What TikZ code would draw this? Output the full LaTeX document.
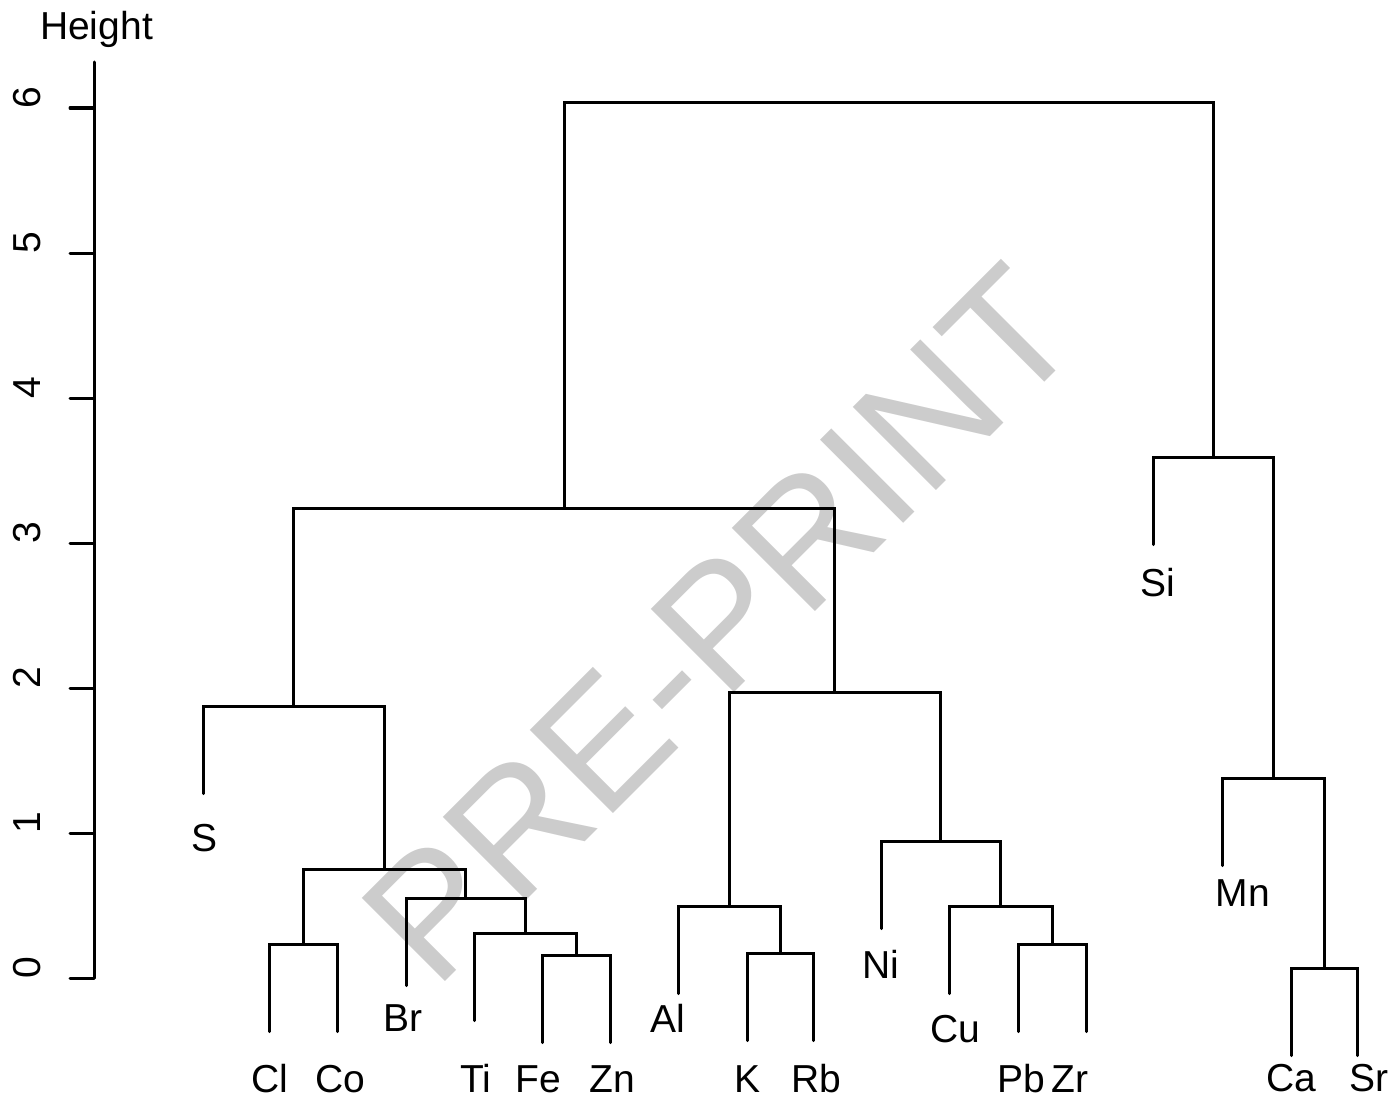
\documentclass[tikz,border=0pt]{standalone}
\usepackage{fontspec}
\setmainfont{Liberation Sans}

\begin{document}
\begin{tikzpicture}[x=0.5pt,y=-0.5pt,
    link/.style={line width=1.5pt,line cap=round},
    leaf/.style={anchor=base,inner sep=0pt,font=\fontsize{19.5}{23}\selectfont},
    ticklabel/.style={leaf,rotate=90},
    watermark/.style={rotate=45,inner sep=0pt,text=black!20,
      font=\fontsize{85.5}{100}\selectfont}]
  \useasboundingbox (0,0) rectangle (1395,1102);
  % watermark behind everything
  \node[watermark] (wm) at (720,624) {PRE-PRINT};

  % y axis with ticks
  \node[leaf] (ylab) at (96.5,39.3) {Height};
  \coordinate (axtop) at (94,62);
  \coordinate (axbot) at (94,978);
  \draw[link] (axtop) -- (axbot);
  \foreach \k in {0,...,6} {
    \coordinate (t\k) at (94,{978-145*\k});
    \coordinate (tt\k) at (70,{978-145*\k});
    \draw[link] (t\k) -- (tt\k);
    \node[ticklabel] (tl\k) at (40,{967.5-145*\k}) {\k};
  }

  % leaf ends (merge height minus hang)
  \coordinate (eS) at (203,793.5);
  \coordinate (eCl) at (269,1031.5);
  \coordinate (eCo) at (337,1031.5);
  \coordinate (eBr) at (406,985.5);
  \coordinate (eTi) at (474,1020.5);
  \coordinate (eFe) at (542,1042.5);
  \coordinate (eZn) at (610,1042.5);
  \coordinate (eAl) at (678,993.5);
  \coordinate (eK) at (747,1040.5);
  \coordinate (eRb) at (813,1040.5);
  \coordinate (eNi) at (881,928.5);
  \coordinate (eCu) at (949,993.5);
  \coordinate (ePb) at (1018,1031.5);
  \coordinate (eZr) at (1086,1031.5);
  \coordinate (eSi) at (1153,544.5);
  \coordinate (eMn) at (1222,865.5);
  \coordinate (eCa) at (1291,1055.5);
  \coordinate (eSr) at (1357,1055.5);

  % leaf labels
  \node[leaf] (S) at (205,851) {S};
  \node[leaf] (Cl) at (270,1092) {Cl};
  \node[leaf] (Co) at (340,1092) {Co};
  \node[leaf] (Br) at (403,1031) {Br};
  \node[leaf] (Ti) at (476,1092) {Ti};
  \node[leaf] (Fe) at (538,1092) {Fe};
  \node[leaf] (Zn) at (612,1092) {Zn};
  \node[leaf] (Al) at (668,1032) {Al};
  \node[leaf] (K) at (747,1092) {K};
  \node[leaf] (Rb) at (816,1092) {Rb};
  \node[leaf] (Ni) at (881,978) {Ni};
  \node[leaf] (Cu) at (955,1042) {Cu};
  \node[leaf] (Pb) at (1021,1092) {Pb};
  \node[leaf] (Zr) at (1070,1092) {Zr};
  \node[leaf] (Si) at (1158,596) {Si};
  \node[leaf] (Mn) at (1243,906) {Mn};
  \node[leaf] (Ca) at (1291,1091) {Ca};
  \node[leaf] (Sr) at (1369,1091) {Sr};

  % merge points
  \coordinate (mClCo) at (303,944);
  \coordinate (mFeZn) at (576,955);
  \coordinate (mTi) at (525,933);
  \coordinate (mBr) at (465.5,898);
  \coordinate (mClBr) at (384,869);
  \coordinate (mS) at (293.5,706);
  \coordinate (mKRb) at (780,953);
  \coordinate (mAl) at (729,906);
  \coordinate (mPbZr) at (1052,944);
  \coordinate (mCu) at (1000.5,906);
  \coordinate (mNi) at (940.75,841);
  \coordinate (mAlNi) at (834.9,692);
  \coordinate (mLeft) at (564.2,508);
  \coordinate (mCaSr) at (1324,968);
  \coordinate (mMn) at (1273,778);
  \coordinate (mSi) at (1213,457);
  \coordinate (mRoot) at (888.6,103);

  % dendrogram links
  \draw[link] (eCl) |- (mClCo) -| (eCo);
  \draw[link] (eFe) |- (mFeZn) -| (eZn);
  \draw[link] (eTi) |- (mTi) -| (mFeZn);
  \draw[link] (eBr) |- (mBr) -| (mTi);
  \draw[link] (mClCo) |- (mClBr) -| (mBr);
  \draw[link] (eS) |- (mS) -| (mClBr);
  \draw[link] (eK) |- (mKRb) -| (eRb);
  \draw[link] (eAl) |- (mAl) -| (mKRb);
  \draw[link] (ePb) |- (mPbZr) -| (eZr);
  \draw[link] (eCu) |- (mCu) -| (mPbZr);
  \draw[link] (eNi) |- (mNi) -| (mCu);
  \draw[link] (mAl) |- (mAlNi) -| (mNi);
  \draw[link] (mS) |- (mLeft) -| (mAlNi);
  \draw[link] (eCa) |- (mCaSr) -| (eSr);
  \draw[link] (eMn) |- (mMn) -| (mCaSr);
  \draw[link] (eSi) |- (mSi) -| (mMn);
  \draw[link] (mLeft) |- (mRoot) -| (mSi);
\end{tikzpicture}
\end{document}
